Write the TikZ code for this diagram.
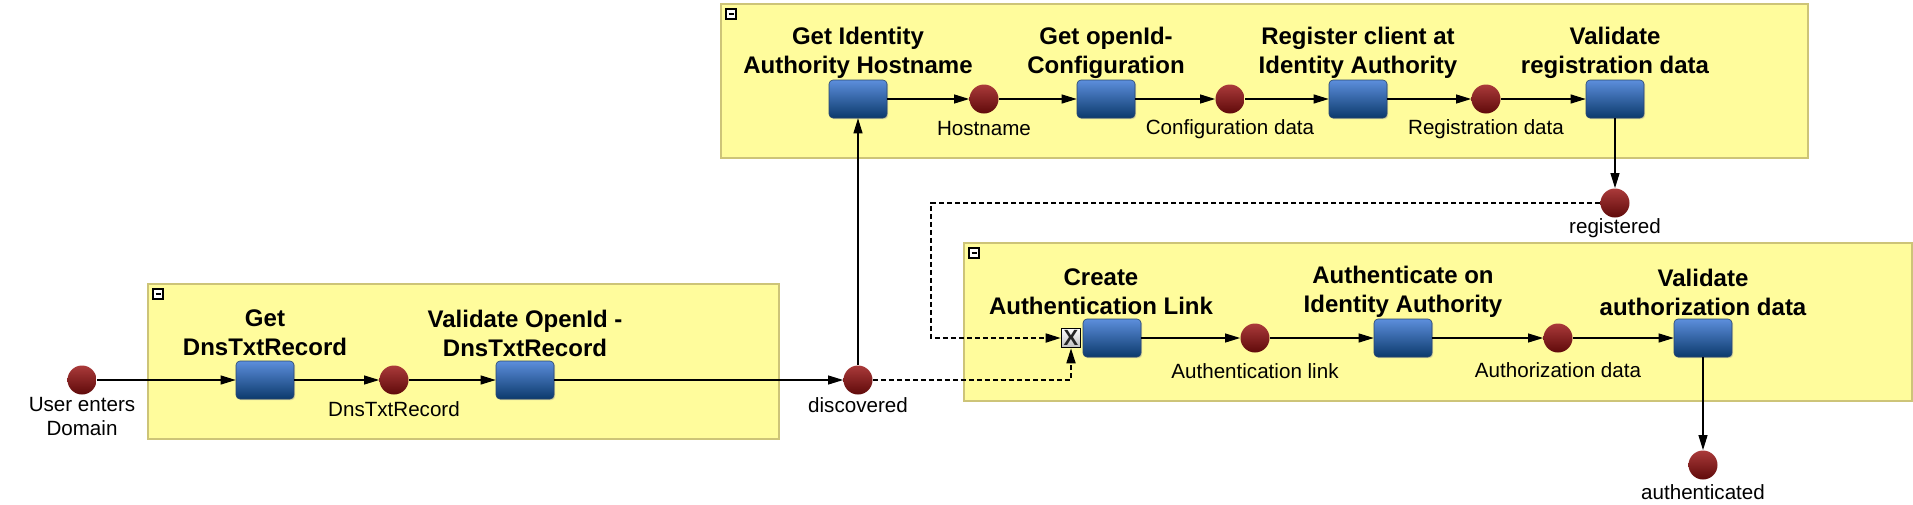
\documentclass[tikz,border=0pt]{standalone}
\usepackage{fontspec}
\setmainfont{Liberation Sans}
\usetikzlibrary{arrows.meta,calc,shadows}
\definecolor{poolFill}{RGB}{255,252,156}
\definecolor{poolBorder}{RGB}{205,196,120}
\definecolor{taskTop}{RGB}{92,142,220}
\definecolor{taskBot}{RGB}{12,58,108}
\definecolor{taskBorder}{RGB}{40,70,110}
\definecolor{evTop}{RGB}{170,58,58}
\definecolor{evBot}{RGB}{95,10,10}
\begin{document}
\begin{tikzpicture}[x=0.5pt,y=-0.5pt,
  pool/.style={fill=poolFill,draw=poolBorder,line width=0.6pt},
  collapse/.style={draw=black,line width=0.6pt,fill=white},
  task/.style={rectangle,rounded corners=2pt,minimum width=29pt,minimum height=19pt,inner sep=0pt,
    top color=taskTop,bottom color=taskBot,draw=taskBorder,line width=0.3pt,
    drop shadow={shadow xshift=0.6pt,shadow yshift=-0.6pt,fill=black!40,opacity=0.4}},
  event/.style={circle,minimum size=14.5pt,inner sep=0pt,top color=evTop,bottom color=evBot,draw=none},
  gate/.style={rectangle,minimum size=9.5pt,inner sep=0pt,draw=black,line width=0.8pt,
    top color=white,bottom color=black!25,font=\bfseries\fontsize{11}{11}\selectfont,text=black!85},
  tlabel/.style={font=\bfseries\fontsize{12}{14.5}\selectfont,align=center,inner sep=0pt},
  elabel/.style={font=\fontsize{10.3}{12}\selectfont,align=center,inner sep=0pt},
  flow/.style={-{Triangle[length=7.5pt,width=4.5pt]},line width=0.55pt},
  dflow/.style={-{Triangle[length=7.5pt,width=4.5pt]},line width=0.85pt,dash pattern=on 2.6pt off 1.4pt}
]
\useasboundingbox (0,0) rectangle (1913,504);
\fill[white] (0,0) rectangle (1913,504);

% pools
\draw[pool] (148,284) rectangle (779,439);
\draw[pool] (721,4) rectangle (1808,158);
\draw[pool] (964,243) rectangle (1912,401);
% collapse markers
\foreach \px/\py in {153/289,726/9,969/248}{
  \draw[collapse] (\px,\py) rectangle ++(10,10);
  \draw[line width=0.6pt] ($(\px,\py)+(2.5,5)$) -- ++(5,0);
}

% nodes
\node[event] (e0) at (82,380) {};
\node[task]  (t1) at (265,380) {};
\node[event] (e1) at (394,380) {};
\node[task]  (t2) at (525,380) {};
\node[event] (e2) at (858,380) {};
\node[task]  (t3) at (858,99) {};
\node[event] (e3) at (984,99) {};
\node[task]  (t4) at (1106,99) {};
\node[event] (e4) at (1230,99) {};
\node[task]  (t5) at (1358,99) {};
\node[event] (e5) at (1486,99) {};
\node[task]  (t6) at (1615,99) {};
\node[event] (e6) at (1615,203) {};
\node[gate]  (g)  at (1071,338) {X};
\node[task]  (t7) at (1112,338) {};
\node[event] (e7) at (1255,338) {};
\node[task]  (t8) at (1403,338) {};
\node[event] (e8) at (1558,338) {};
\node[task]  (t9) at (1703,338) {};
\node[event] (e9) at (1703,465) {};
\coordinate (c1) at (931,203);

% task labels
\node[tlabel] (l1) at (265,333) {Get\\DnsTxtRecord};
\node[tlabel] (l2) at (525,333) {Validate OpenId -\\DnsTxtRecord};
\node[tlabel] (l3) at (858,53) {Get Identity\\Authority Hostname};
\node[tlabel] (l4) at (1106,53) {Get openId-\\Configuration};
\node[tlabel] (l5) at (1358,53) {Register client at\\Identity Authority};
\node[tlabel] (l6) at (1615,53) {Validate\\registration data};
\node[tlabel] (l7) at (1101,292) {Create\\Authentication Link};
\node[tlabel] (l8) at (1403,292) {Authenticate on\\Identity Authority};
\node[tlabel] (l9) at (1703,292) {Validate\\authorization data};

% event labels
\node[elabel] (m0) at (82,417) {User enters\\Domain};
\node[elabel] (m1) at (394,409) {DnsTxtRecord};
\node[elabel] (m2) at (858,405) {discovered};
\node[elabel] (m3) at (984,129) {Hostname};
\node[elabel] (m4) at (1230,129) {Configuration data};
\node[elabel] (m5) at (1486,129) {Registration data};
\node[elabel] (m6) at (1615,228) {registered};
\node[elabel] (m7) at (1255,371) {Authentication link};
\node[elabel] (m8) at (1558,370) {Authorization data};
\node[elabel] (m9) at (1703,492) {authenticated};

% flows
\draw[flow] (e0) -- (t1);
\draw[flow] (t1) -- (e1);
\draw[flow] (e1) -- (t2);
\draw[flow] (t2) -- (e2);
\draw[flow] (e2) -- (t3);
\draw[flow] (t3) -- (e3);
\draw[flow] (e3) -- (t4);
\draw[flow] (t4) -- (e4);
\draw[flow] (e4) -- (t5);
\draw[flow] (t5) -- (e5);
\draw[flow] (e5) -- (t6);
\draw[flow] (t6) -- (e6);
\draw[flow] (t7) -- (e7);
\draw[flow] (e7) -- (t8);
\draw[flow] (t8) -- (e8);
\draw[flow] (e8) -- (t9);
\draw[flow] (t9) -- (e9);
\draw[dflow] (e2.east) -| (g.south);
\draw[dflow] (e6.west) -- (c1) |- (g.west);
\end{tikzpicture}
\end{document}
